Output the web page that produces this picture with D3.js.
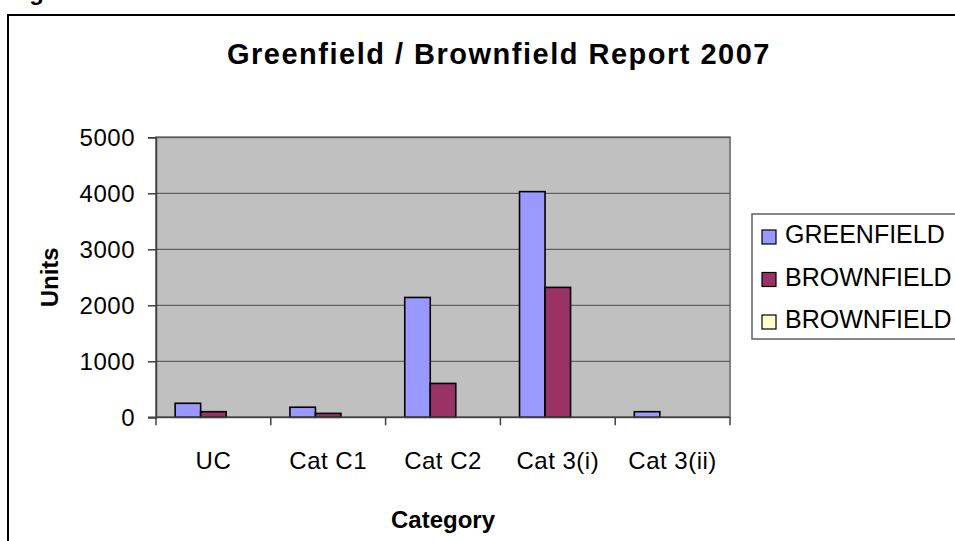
<!DOCTYPE html>
<html>
<head>
<meta charset="utf-8">
<script src="https://cdn.jsdelivr.net/npm/d3@7"></script>
<style>
  html, body { margin: 0; padding: 0; background: #fff; }
  svg { display: block; font-family: Arial, "Liberation Sans", sans-serif; }
</style>
</head>
<body>
<svg id="chart" width="955" height="541"></svg>
<script>
const categories = ["UC", "Cat C1", "Cat C2", "Cat 3(i)", "Cat 3(ii)"];
const seriesNames = ["GREENFIELD", "BROWNFIELD", "BROWNFIELD "];
const greenfield = [250, 180, 2140, 4030, 100];
const brownfield = [100, 70, 605, 2320, 0];
const brownfield2 = [0, 0, 0, 0, 0];
const yTicks = [0, 1000, 2000, 3000, 4000, 5000];
const colors = ["#9999FF", "#993366", "#FFFFCC"];

const seriesValues = [greenfield, brownfield, brownfield2];
const data = categories.map((c, i) => ({
  cat: c,
  vals: seriesNames.map((s, j) => ({ s, j, v: seriesValues[j][i] }))
}));

const svg = d3.select("#chart");
const plot = { left: 156, right: 730, top: 137.3, bottom: 417.3 };

// outer frame & cut-off caption
svg.append("text").attr("x", 8).attr("y", 0).attr("font-size", 24).attr("font-weight", "bold").text("Figure");
svg.append("rect").attr("x", 8).attr("y", 15).attr("width", 1000).attr("height", 600)
  .attr("fill", "none").attr("stroke", "#000").attr("stroke-width", 2);

const x0 = d3.scaleBand().domain(categories).range([plot.left, plot.right]).paddingInner(0).paddingOuter(0);
const unit = x0.bandwidth() / 4.5;
const x1 = d3.scaleBand().domain(seriesNames).range([0.75 * unit, 3.75 * unit]);
const y = d3.scaleLinear().domain([0, 5000]).range([plot.bottom, plot.top]);

// plot area
svg.append("rect").attr("x", plot.left).attr("y", plot.top)
  .attr("width", plot.right - plot.left).attr("height", plot.bottom - plot.top)
  .attr("fill", "#C0C0C0").attr("stroke", "#808080").attr("stroke-width", 2);

// gridlines
svg.append("g").selectAll("line").data(yTicks.filter(t => t > 0)).join("line")
  .attr("x1", plot.left).attr("x2", plot.right)
  .attr("y1", d => y(d)).attr("y2", d => y(d))
  .attr("stroke", "#5f5f5f").attr("stroke-width", 1.3);

// bars
const groups = svg.append("g").selectAll("g").data(data).join("g")
  .attr("transform", d => `translate(${x0(d.cat)},0)`);
groups.selectAll("rect").data(d => d.vals.filter(v => v.v > 0)).join("rect")
  .attr("x", d => x1(d.s)).attr("width", x1.bandwidth())
  .attr("y", d => y(d.v)).attr("height", d => y(0) - y(d.v))
  .attr("fill", d => colors[d.j]).attr("stroke", "#000").attr("stroke-width", 1.6);

// y axis
const yAxis = d3.axisLeft(y).tickValues(yTicks).tickSize(8).tickPadding(13).tickFormat(d3.format("d"));
const gy = svg.append("g").attr("transform", `translate(${plot.left},0)`).call(yAxis);
gy.select(".domain").attr("stroke", "#404040").attr("stroke-width", 1.5);
gy.selectAll(".tick line").attr("stroke", "#404040").attr("stroke-width", 1.5);
gy.selectAll(".tick text").attr("font-size", 24).attr("font-family", "Arial, 'Liberation Sans', sans-serif")
  .attr("fill", "#000").attr("letter-spacing", 0.5).attr("dy", "0.35em");

// x axis
const xAxis = d3.axisBottom(x0).tickSize(0).tickPadding(0);
const gx = svg.append("g").attr("transform", `translate(0,${plot.bottom})`).call(xAxis);
gx.select(".domain").remove();
gx.append("line").attr("x1", plot.left - 8).attr("x2", plot.right).attr("y1", 0).attr("y2", 0)
  .attr("stroke", "#404040").attr("stroke-width", 1.5);
gx.selectAll(".sep").data(categories.concat(["_end"])).join("line").attr("class", "sep")
  .attr("x1", (d, i) => i < categories.length ? x0(d) : plot.right)
  .attr("x2", (d, i) => i < categories.length ? x0(d) : plot.right)
  .attr("y1", 0).attr("y2", 8).attr("stroke", "#404040").attr("stroke-width", 1.5);
gx.selectAll(".tick text").attr("font-size", 24).attr("font-family", "Arial, 'Liberation Sans', sans-serif")
  .attr("fill", "#000").attr("dy", 0).attr("y", 52).attr("letter-spacing", 0.5);

// titles
svg.append("text").attr("x", 499).attr("y", 64).attr("text-anchor", "middle")
  .attr("font-size", 29).attr("font-weight", "bold").attr("letter-spacing", 1.5)
  .text("Greenfield / Brownfield Report 2007");
svg.append("text").attr("transform", `translate(58,${(plot.top + plot.bottom) / 2}) rotate(-90)`)
  .attr("text-anchor", "middle").attr("font-size", 24).attr("font-weight", "bold")
  .text("Units");
svg.append("text").attr("x", (plot.left + plot.right) / 2).attr("y", 528).attr("text-anchor", "middle")
  .attr("font-size", 24).attr("font-weight", "bold").text("Category");

// legend
const lg = svg.append("g");
lg.append("rect").attr("x", 752).attr("y", 214).attr("width", 300).attr("height", 125)
  .attr("fill", "#fff").attr("stroke", "#606060").attr("stroke-width", 1.5);
const items = lg.selectAll("g.item").data(seriesNames).join("g").attr("class", "item")
  .attr("transform", (d, i) => `translate(762,${230 + i * 42.5})`);
items.append("rect").attr("width", 14).attr("height", 14)
  .attr("fill", (d, i) => colors[i]).attr("stroke", "#000").attr("stroke-width", 1.2);
items.append("text").attr("x", 23).attr("y", 13).attr("font-size", 25).text(d => d.trim());
</script>
</body>
</html>
